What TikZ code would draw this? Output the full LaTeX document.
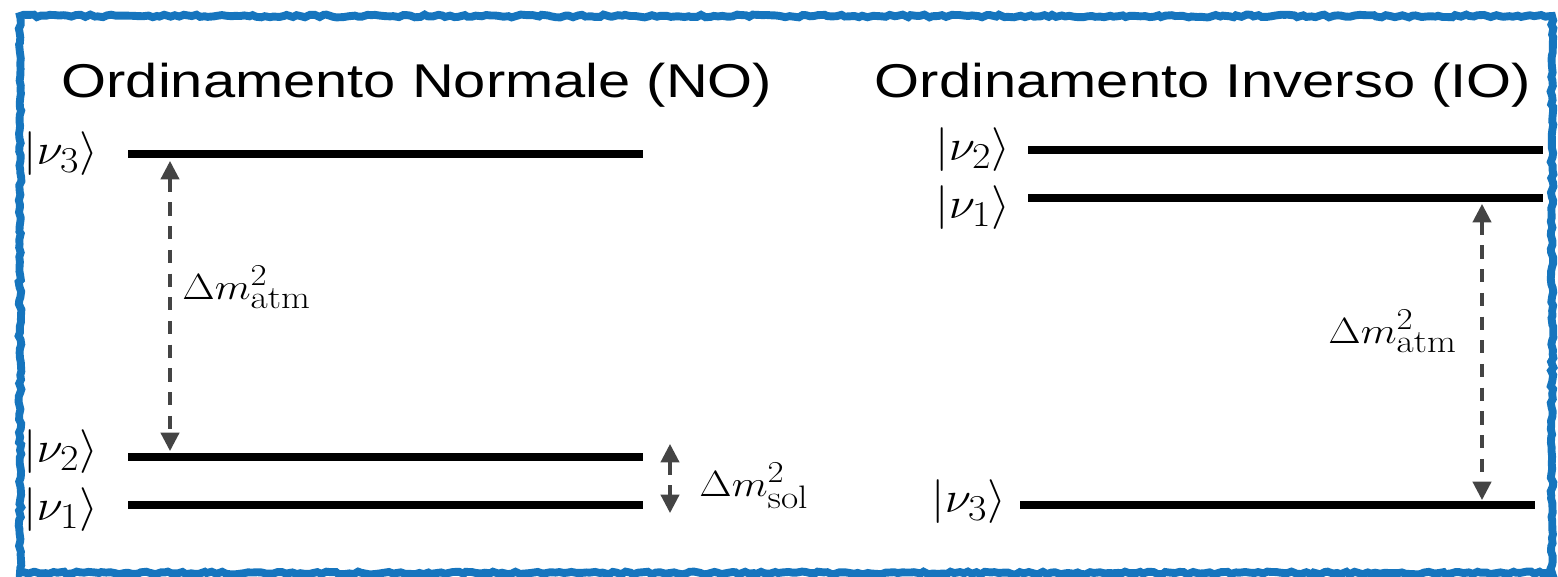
\documentclass[tikz,border=0pt]{standalone}
\usepackage{fontspec}
\newfontfamily\titlefont{Liberation Sans}
\DeclareMathSizes{22.5}{22.5}{18.5}{14}
\DeclareMathSizes{29}{29}{21}{16}
\usetikzlibrary{arrows.meta,decorations.pathmorphing}
\definecolor{frameblue}{RGB}{22,117,190}
\definecolor{arrowgray}{RGB}{68,68,68}
\tikzset{
  level/.style={line width=4.5pt},
  gap/.style={draw=arrowgray, line width=1.8pt, dash pattern=on 7.5pt off 6pt,
    {Triangle[length=10.5pt,width=10.5pt]}-{Triangle[length=10.5pt,width=10.5pt]}},
  title/.style={font=\titlefont\fontsize{27}{30}\selectfont, xscale=1.22, inner sep=0pt, anchor=base},
  ket/.style={font=\fontsize{29}{31}\selectfont, xscale=1.1, inner sep=0pt, anchor=base west},
  dlabel/.style={font=\fontsize{22.5}{25}\selectfont, xscale=1.15, inner sep=0pt, anchor=base west},
  sketch/.style={draw=frameblue, line width=4.5pt, decorate,
    decoration={random steps, segment length=2.5pt, amplitude=0.8pt}}
}
\begin{document}
\begin{tikzpicture}[x=0.02cm, y=-0.02cm]
\useasboundingbox (0,0) rectangle (1558,576);
\fill[white] (0,0) rectangle (1558,576);
% frame
\draw[sketch] (20,16) -- (1552,16) -- (1552,573) -- (20,573) -- cycle;
% titles
\node[title] (tno) at (417,97) {Ordinamento Normale (NO)};
\node[title] (tio) at (1203,97) {Ordinamento Inverso (IO)};
% NO levels
\coordinate (n3a) at (128,154); \coordinate (n3b) at (643,154);
\coordinate (n2a) at (128,457); \coordinate (n2b) at (643,457);
\coordinate (n1a) at (128,505); \coordinate (n1b) at (643,505);
\draw[level] (n3a) -- (n3b);
\draw[level] (n2a) -- (n2b);
\draw[level] (n1a) -- (n1b);
\node[ket] (k3) at (23,164) {$|\nu_3\rangle$};
\node[ket] (k2) at (23,462) {$|\nu_2\rangle$};
\node[ket] (k1) at (23,520) {$|\nu_1\rangle$};
\coordinate (atmT) at (170,161); \coordinate (atmB) at (170,451);
\draw[gap] (atmT) -- (atmB);
\node[dlabel] (latm) at (182,299) {$\Delta m^2_{\mathrm{atm}}$};
\coordinate (solT) at (670,444); \coordinate (solB) at (670,513);
\draw[gap] (solT) -- (solB);
\node[dlabel] (lsol) at (699,496) {$\Delta m^2_{\mathrm{sol}}$};
% IO levels
\coordinate (i2a) at (1028,150); \coordinate (i2b) at (1543,150);
\coordinate (i1a) at (1028,198); \coordinate (i1b) at (1543,198);
\coordinate (i3a) at (1020,505); \coordinate (i3b) at (1535,505);
\draw[level] (i2a) -- (i2b);
\draw[level] (i1a) -- (i1b);
\draw[level] (i3a) -- (i3b);
\node[ket] (j2) at (935,160) {$|\nu_2\rangle$};
\node[ket] (j1) at (935,218) {$|\nu_1\rangle$};
\node[ket] (j3) at (931,512) {$|\nu_3\rangle$};
\coordinate (iatmT) at (1482,204); \coordinate (iatmB) at (1482,500);
\draw[gap] (iatmT) -- (iatmB);
\node[dlabel] (liatm) at (1328,343) {$\Delta m^2_{\mathrm{atm}}$};
\end{tikzpicture}
\end{document}
